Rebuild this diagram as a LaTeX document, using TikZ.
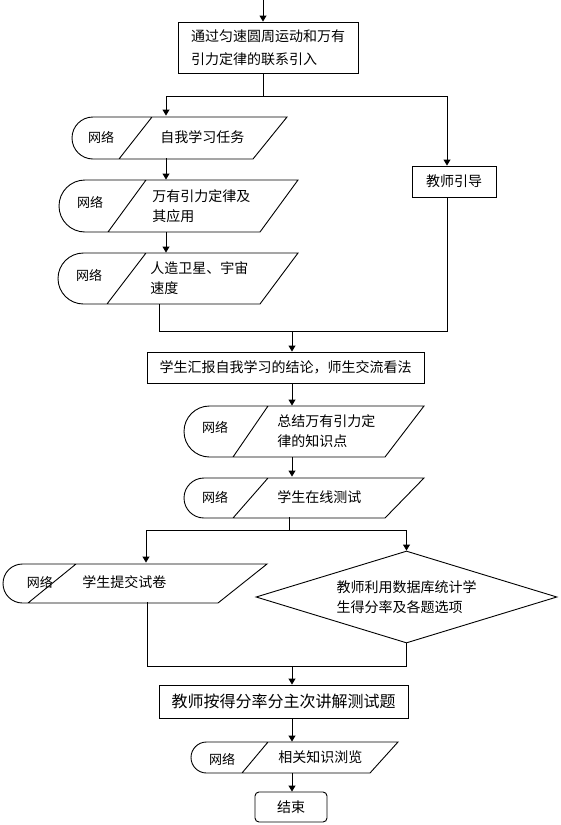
\documentclass[tikz,border=0pt]{standalone}
\usepackage{fontspec}
\newfontfamily\cjk{Noto Sans CJK SC}
\usetikzlibrary{arrows.meta,shapes.geometric}

\begin{document}
\begin{tikzpicture}[x=1pt,y=-1pt,line width=0.9pt,font=\cjk\fontsize{14}{20}\selectfont,
  arr/.style={-{Triangle[length=6pt,width=7pt]}},
  box/.style={draw,inner sep=0pt,minimum height=31},
  nettxt/.style={anchor=west,inner sep=0pt,align=left},
  netlbl/.style={inner sep=0pt,font=\cjk\fontsize{13}{16}\selectfont}]
  \useasboundingbox (0,0) rectangle (561,825);
  % boxes
  \node[box,minimum width=180,minimum height=51,align=left,font=\cjk\fontsize{14}{23}\selectfont] (intro) at (268,47.5) {通过匀速圆周运动和万有\\引力定律的联系引入};
  \node[box,minimum width=84] (teach) at (454,181.5) {教师引导};
  \node[box,minimum width=277] (report) at (285.5,367.5) {学生汇报自我学习的结论，师生交流看法};
  \node[box,minimum width=249,minimum height=33,font=\cjk\fontsize{16}{20}\selectfont] (explain) at (283.5,701.5) {教师按得分率分主次讲解测试题};
  \node[box,rounded corners=4pt,minimum width=72,minimum height=30] (finish) at (291,807) {结束};
  \node[diamond,draw,aspect=3.3,inner sep=0pt,minimum width=301,minimum height=92,align=left] (stat) at (406.5,597) {教师利用数据库统计学\\生得分率及各题选项};
  % network shapes
  \draw (93,117) -- (287,117) -- (253,159) -- (93,159) arc[start angle=90,end angle=270,radius=21] -- cycle (152,117) -- (119,159);
  \node[netlbl] (l1) at (101,137) {网络};
  \node[nettxt,minimum height=42] (self) at (160,137) {自我学习任务};
  \draw (85,180) -- (298,180) -- (260,232) -- (85,232) arc[start angle=90,end angle=270,radius=26] -- cycle (146,180) -- (108,232);
  \node[netlbl] (l2) at (90,202) {网络};
  \node[nettxt,minimum height=52] (law) at (152,206) {万有引力定律及\\其应用};
  \draw (83.5,253) -- (298,253) -- (260,304) -- (83.5,304) arc[start angle=90,end angle=270,radius=25.5] -- cycle (146,253) -- (107,304);
  \node[netlbl] (l3) at (89,275) {网络};
  \node[nettxt,minimum height=51] (sat) at (150,278.5) {人造卫星、宇宙\\速度};
  \draw (209.5,406) -- (424,406) -- (385,457) -- (209.5,457) arc[start angle=90,end angle=270,radius=25.5] -- cycle (268,406) -- (233,457);
  \node[netlbl] (l4) at (215,427) {网络};
  \node[nettxt,minimum height=51] (conc) at (277,431.5) {总结万有引力定\\律的知识点};
  \draw (204,478) -- (424,478) -- (385,518) -- (204,518) arc[start angle=90,end angle=270,radius=20] -- cycle (268,478) -- (233,518);
  \node[netlbl] (l5) at (215,497) {网络};
  \node[nettxt,minimum height=40] (test) at (277,497) {学生在线测试};
  \draw (22.5,564) -- (267,564) -- (218,603) -- (22.5,603) arc[start angle=90,end angle=270,radius=19.5] -- cycle (76,564) -- (28,603);
  \node[netlbl] (l6) at (40,582) {网络};
  \node[nettxt,minimum height=39] (paper) at (82,582.5) {学生提交试卷};
  \draw (206.5,742) -- (398,742) -- (370,773) -- (206.5,773) arc[start angle=90,end angle=270,radius=15.5] -- cycle (268,742) -- (242,773);
  \node[netlbl] (l7) at (222,759) {网络};
  \node[nettxt,minimum height=31] (browse) at (278,757.5) {相关知识浏览};
  % connectors
  \coordinate (top) at (263,0);
  \coordinate (lcol) at (166,96);
  \coordinate (rcol) at (447,96);
  \draw[arr] (top) -- (top |- intro.north);
  \draw (intro.south -| top) -- (top |- lcol);
  \draw (lcol) -- (rcol);
  \draw[arr] (lcol) -- (lcol |- self.north);
  \draw[arr] (rcol) -- (rcol |- teach.north);
  \draw[arr] (lcol |- self.south) -- (lcol |- law.north);
  \draw[arr] (lcol |- law.south) -- (lcol |- sat.north);
  \coordinate (join) at (292,331);
  \coordinate (jl) at (159,331);
  \draw (jl |- sat.south) -- (jl) -- (rcol |- join) -- (rcol |- teach.south);
  \draw[arr] (join) -- (join |- report.north);
  \draw[arr] (join |- report.south) -- (join |- conc.north);
  \draw[arr] (join |- conc.south) -- (join |- test.north);
  \coordinate (fork) at (289,530);
  \coordinate (fl) at (146,530);
  \draw (fork |- test.south) -- (fork);
  \draw (fl) -- (fl -| stat.north);
  \draw[arr] (fl) -- (fl |- paper.north);
  \draw[arr] (fl -| stat.north) -- (stat.north);
  \coordinate (merge) at (292,666);
  \coordinate (ml) at (147,666);
  \draw (ml |- paper.south) -- (ml) -- (ml -| stat.south) -- (stat.south);
  \draw[arr] (merge) -- (merge |- explain.north);
  \draw[arr] (merge |- explain.south) -- (merge |- browse.north);
  \draw[arr] (merge |- browse.south) -- (merge |- finish.north);
\end{tikzpicture}
\end{document}
